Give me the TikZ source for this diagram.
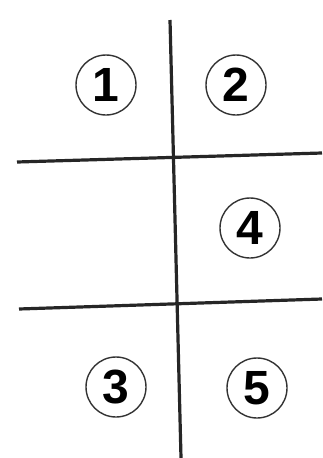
\documentclass[tikz,border=0pt]{standalone}
\usepackage{fontspec}
\setmainfont{Liberation Sans}
\usepackage{tikz}
\usetikzlibrary{positioning}

\begin{document}
\begin{tikzpicture}[
    x=1pt, y=-1pt,
    numcircle/.style={draw, circle, minimum size=60pt, inner sep=0pt, line width=1.4pt, draw=black!80, font=\fontsize{48}{48}\selectfont\bfseries},
    divline/.style={line width=3.2pt, draw=black!85}
]
\useasboundingbox (0,0) rectangle (322,458);

\coordinate (vtop) at (170,20);
\coordinate (vbot) at (181,458);
\coordinate (h1l) at (17,162);
\coordinate (h1r) at (322,153);
\coordinate (h2l) at (19,309);
\coordinate (h2r) at (322,299);

\draw[divline] (vtop) -- (vbot);
\draw[divline] (h1l) -- (h1r);
\draw[divline] (h2l) -- (h2r);

\node (one) [numcircle] at (106,85) {1};
\node (two) [numcircle] at (236,85) {2};
\node (four) [numcircle] at (250,228) {4};
\node (three) [numcircle] at (116,387) {3};
\node (five) [numcircle] at (257,388) {5};

\end{tikzpicture}
\end{document}
